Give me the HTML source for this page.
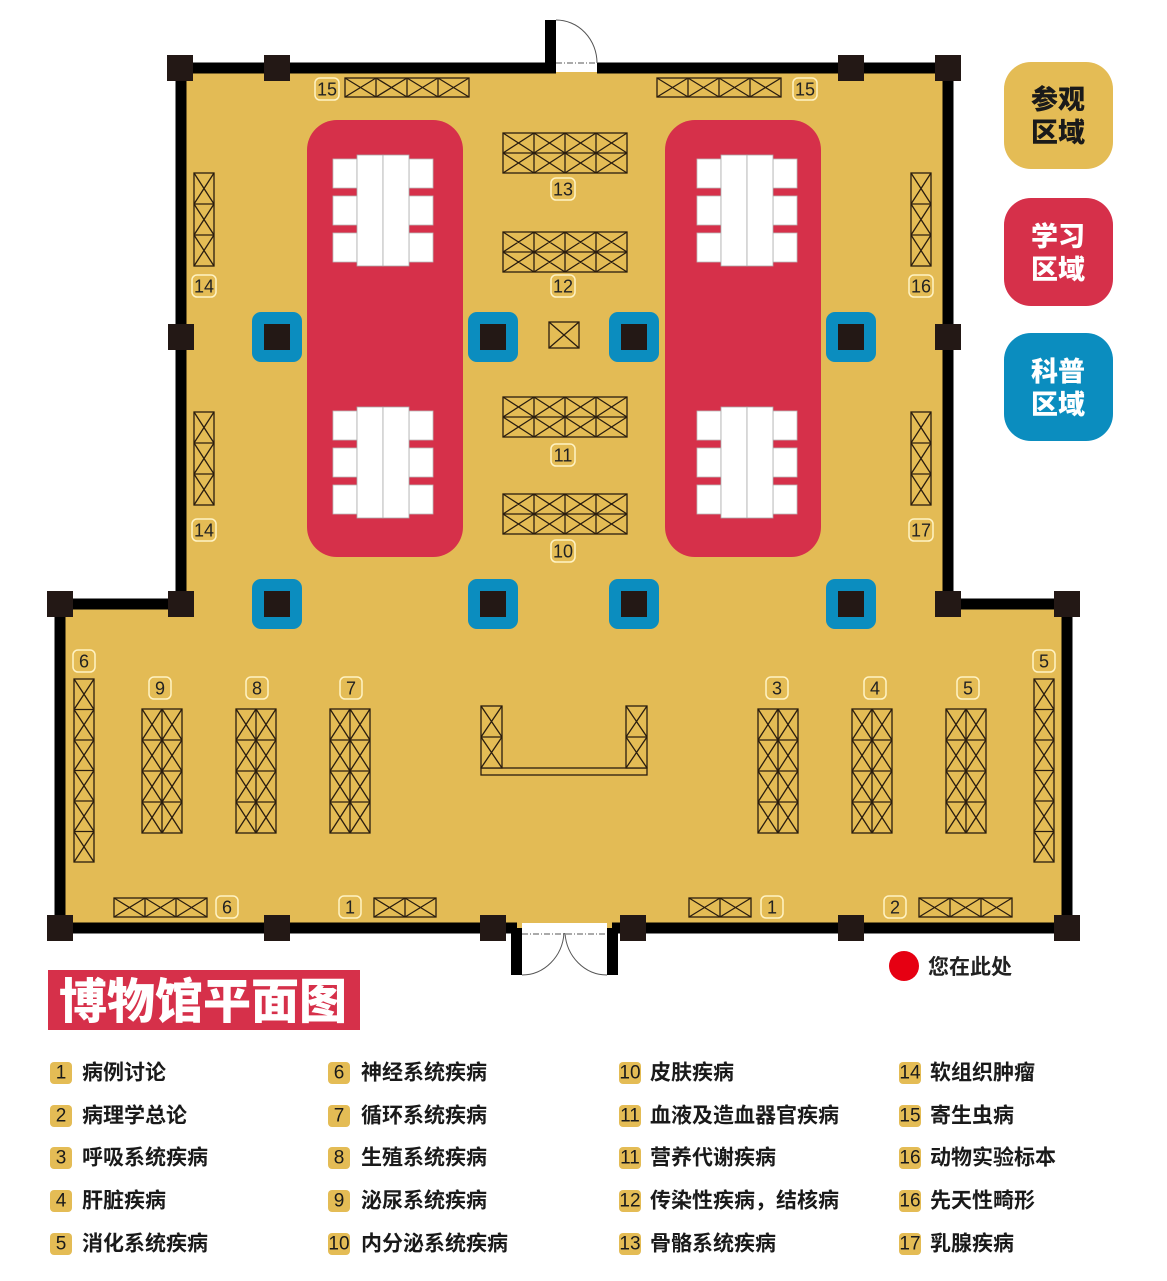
<!DOCTYPE html>
<html><head><meta charset="utf-8"><style>
html,body{margin:0;padding:0;background:#fff}
svg{display:block}
.lb rect{fill:#e4bc55;stroke:#fff3c4;stroke-width:1.5}
.lb text{font-family:"Liberation Sans",sans-serif;font-size:18px;fill:#222;text-anchor:middle;dominant-baseline:central}
.cs{fill:#e4bc55;stroke:#2a1d0f;stroke-width:1.3}
.lg text{font-family:"Liberation Sans","Noto Sans CJK SC",sans-serif;font-size:21px;font-weight:bold;fill:#1a1a1a;dominant-baseline:central}
.lg rect{fill:#e4bc55}
.lg .n{font-weight:normal;font-size:19px;text-anchor:middle}
</style></head><body>
<svg width="1167" height="1281" viewBox="0 0 1167 1281" xmlns="http://www.w3.org/2000/svg">
<defs>
<g id="T4" class="cs"><rect width="124" height="19"/><path d="M0 0l31 19M31 0L0 19M31 0l31 19M62 0L31 19M62 0l31 19M93 0L62 19M93 0l31 19M124 0L93 19M31 0v19M62 0v19M93 0v19"/></g>
<g id="H3" class="cs"><rect width="93" height="19"/><path d="M0 0l31 19M31 0L0 19M31 0l31 19M62 0L31 19M62 0l31 19M93 0L62 19M31 0v19M62 0v19"/></g>
<g id="H2" class="cs"><rect width="62" height="19"/><path d="M0 0l31 19M31 0L0 19M31 0l31 19M62 0L31 19M31 0v19"/></g>
<g id="B4" class="cs"><rect width="124" height="40"/><path d="M0 20h124M31 0v40M62 0v40M93 0v40M0 0l31 20M31 0L0 20M31 0l31 20M62 0L31 20M62 0l31 20M93 0L62 20M93 0l31 20M124 0L93 20M0 20l31 20M31 20L0 40M31 20l31 20M62 20L31 40M62 20l31 20M93 20L62 40M93 20l31 20M124 20L93 40"/></g>
<g id="V3" class="cs"><rect width="20" height="93"/><path d="M0 31h20M0 62h20M0 0l20 31M20 0L0 31M0 31l20 31M20 31L0 62M0 62l20 31M20 62L0 93"/></g>
<g id="V6" class="cs"><rect width="20" height="183"/><path d="M0 30.5h20M0 61h20M0 91.5h20M0 122h20M0 152.5h20M0 0l20 30.5M20 0L0 30.5M0 30.5l20 30.5M20 30.5L0 61M0 61l20 30.5M20 61L0 91.5M0 91.5l20 30.5M20 91.5L0 122M0 122l20 30.5M20 122L0 152.5M0 152.5l20 30.5M20 152.5L0 183"/></g>
<g id="D8" class="cs"><rect width="40" height="124"/><path d="M20 0v124M0 31h40M0 62h40M0 93h40M0 0l20 31M20 0L0 31M0 31l20 31M20 31L0 62M0 62l20 31M20 62L0 93M0 93l20 31M20 93L0 124M20 0l20 31M40 0L20 31M20 31l20 31M40 31L20 62M20 62l20 31M40 62L20 93M20 93l20 31M40 93L20 124"/></g>
<g id="V2" class="cs"><rect width="21" height="62"/><path d="M0 31h21M0 0l21 31M21 0L0 31M0 31l21 31M21 31L0 62"/></g>
<g id="TB"><rect x="0" y="0" width="24" height="29" fill="#fff" stroke="#bbb" stroke-width="0.8"/><rect x="0" y="37" width="24" height="29" fill="#fff" stroke="#bbb" stroke-width="0.8"/><rect x="0" y="74" width="24" height="29" fill="#fff" stroke="#bbb" stroke-width="0.8"/><rect x="76" y="0" width="24" height="29" fill="#fff" stroke="#bbb" stroke-width="0.8"/><rect x="76" y="37" width="24" height="29" fill="#fff" stroke="#bbb" stroke-width="0.8"/><rect x="76" y="74" width="24" height="29" fill="#fff" stroke="#bbb" stroke-width="0.8"/><rect x="24" y="-4" width="26" height="111" fill="#fff" stroke="#aaa" stroke-width="0.8"/><rect x="50" y="-4" width="26" height="111" fill="#fff" stroke="#aaa" stroke-width="0.8"/></g>
<g id="BC"><rect x="-25" y="-25" width="50" height="50" rx="9" fill="#0b8dbf"/><rect x="-13" y="-13" width="26" height="26" fill="#231815"/></g>
</defs>

<path d="M181 68H948V604H1067V928H60V604H181Z" fill="#e3bb55"/>
<g fill="none" stroke="#000" stroke-width="11">
<path d="M556 68H181V604H60V928H517"/>
<path d="M612 928H1067V604H948V68H597"/>
<path d="M550.5 20V68"/>
<path d="M516.5 928V975M612.5 928V975"/>
</g>
<rect x="556" y="64" width="41" height="8" fill="#fff"/>
<rect x="522" y="923" width="85" height="11" fill="#fff"/>
<g fill="none" stroke="#555" stroke-width="1">
<path d="M556 20A41 43 0 0 1 597 63"/>
<path d="M522 975A42 45 0 0 0 564 933M607 975A42 45 0 0 1 565 933"/>
<path d="M556 63H597M522 934H607" stroke-dasharray="6 2 1 2"/>
</g>
<g fill="#231815">
<rect x="167" y="55" width="26" height="26"/><rect x="264" y="55" width="26" height="26"/><rect x="838" y="55" width="26" height="26"/><rect x="935" y="55" width="26" height="26"/>
<rect x="168" y="324" width="26" height="26"/><rect x="935" y="324" width="26" height="26"/>
<rect x="168" y="591" width="26" height="26"/><rect x="935" y="591" width="26" height="26"/>
<rect x="47" y="591" width="26" height="26"/><rect x="1054" y="591" width="26" height="26"/>
<rect x="47" y="915" width="26" height="26"/><rect x="1054" y="915" width="26" height="26"/>
<rect x="264" y="915" width="26" height="26"/><rect x="480" y="915" width="26" height="26"/><rect x="620" y="915" width="26" height="26"/><rect x="838" y="915" width="26" height="26"/>
</g>
<rect x="307" y="120" width="156" height="437" rx="30" fill="#d6304a"/>
<rect x="665" y="120" width="156" height="437" rx="30" fill="#d6304a"/>
<use href="#TB" x="333" y="159"/><use href="#TB" x="333" y="411"/>
<use href="#TB" x="697" y="159"/><use href="#TB" x="697" y="411"/>
<use href="#BC" x="277" y="337"/><use href="#BC" x="493" y="337"/><use href="#BC" x="634" y="337"/><use href="#BC" x="851" y="337"/>
<use href="#BC" x="277" y="604"/><use href="#BC" x="493" y="604"/><use href="#BC" x="634" y="604"/><use href="#BC" x="851" y="604"/>
<use href="#T4" x="345" y="78"/><use href="#T4" x="657" y="78"/>
<use href="#B4" x="503" y="133"/><use href="#B4" x="503" y="232"/><use href="#B4" x="503" y="397"/><use href="#B4" x="503" y="494"/>
<g class="cs"><rect x="549" y="322" width="30" height="26"/><path d="M549 322l30 26M579 322l-30 26"/></g>
<use href="#V3" x="194" y="173"/><use href="#V3" x="194" y="412"/><use href="#V3" x="911" y="173"/><use href="#V3" x="911" y="412"/>
<use href="#V6" x="74" y="679"/><use href="#V6" x="1034" y="679"/>
<use href="#D8" x="142" y="709"/><use href="#D8" x="236" y="709"/><use href="#D8" x="330" y="709"/>
<use href="#D8" x="758" y="709"/><use href="#D8" x="852" y="709"/><use href="#D8" x="946" y="709"/>
<use href="#H3" x="114" y="898"/><use href="#H2" x="374" y="898"/><use href="#H2" x="689" y="898"/><use href="#H3" x="919" y="898"/>
<g class="cs"><rect x="481" y="768" width="166" height="7"/></g>
<use href="#V2" x="481" y="706"/><use href="#V2" x="626" y="706"/>
<g class="lb">
<rect x="315" y="78" width="24" height="22" rx="5"/><text x="327" y="89.5">15</text>
<rect x="793" y="78" width="24" height="22" rx="5"/><text x="805" y="89.5">15</text>
<rect x="551" y="178" width="24" height="22" rx="5"/><text x="563" y="189.5">13</text>
<rect x="551" y="275" width="24" height="22" rx="5"/><text x="563" y="286.5">12</text>
<rect x="551" y="444" width="24" height="22" rx="5"/><text x="563" y="455.5">11</text>
<rect x="551" y="540" width="24" height="22" rx="5"/><text x="563" y="551.5">10</text>
<rect x="192" y="275" width="24" height="22" rx="5"/><text x="204" y="286.5">14</text>
<rect x="192" y="519" width="24" height="22" rx="5"/><text x="204" y="530.5">14</text>
<rect x="909" y="275" width="24" height="22" rx="5"/><text x="921" y="286.5">16</text>
<rect x="909" y="519" width="24" height="22" rx="5"/><text x="921" y="530.5">17</text>
<rect x="73" y="650" width="22" height="22" rx="5"/><text x="84" y="661.5">6</text>
<rect x="1033" y="650" width="22" height="22" rx="5"/><text x="1044" y="661.5">5</text>
<rect x="149" y="677" width="22" height="22" rx="5"/><text x="160" y="688.5">9</text>
<rect x="246" y="677" width="22" height="22" rx="5"/><text x="257" y="688.5">8</text>
<rect x="340" y="677" width="22" height="22" rx="5"/><text x="351" y="688.5">7</text>
<rect x="766" y="677" width="22" height="22" rx="5"/><text x="777" y="688.5">3</text>
<rect x="864" y="677" width="22" height="22" rx="5"/><text x="875" y="688.5">4</text>
<rect x="957" y="677" width="22" height="22" rx="5"/><text x="968" y="688.5">5</text>
<rect x="216" y="896" width="22" height="22" rx="5"/><text x="227" y="907.5">6</text>
<rect x="339" y="896" width="22" height="22" rx="5"/><text x="350" y="907.5">1</text>
<rect x="761" y="896" width="22" height="22" rx="5"/><text x="772" y="907.5">1</text>
<rect x="884" y="896" width="22" height="22" rx="5"/><text x="895" y="907.5">2</text>
</g>
<g font-family="Liberation Sans,Noto Sans CJK SC,sans-serif" font-size="27" font-weight="900" text-anchor="middle">
<rect x="1004" y="62" width="109" height="107" rx="27" fill="#e4bc55"/>
<text x="1058" y="109" fill="#1a1a1a">参观</text><text x="1058" y="142" fill="#1a1a1a">区域</text>
<rect x="1004" y="198" width="109" height="108" rx="27" fill="#d6304a"/>
<text x="1058" y="246" fill="#fff">学习</text><text x="1058" y="279" fill="#fff">区域</text>
<rect x="1004" y="333" width="109" height="108" rx="27" fill="#0b8dbf"/>
<text x="1058" y="381" fill="#fff">科普</text><text x="1058" y="414" fill="#fff">区域</text>
</g>
<circle cx="904" cy="966" r="15" fill="#e60012"/>
<text x="928" y="974" font-family="Liberation Sans,Noto Sans CJK SC,sans-serif" font-size="21" font-weight="bold" fill="#222">您在此处</text>
<rect x="48" y="970" width="312" height="60" fill="#d6304a"/>
<text x="203" y="1018" text-anchor="middle" font-family="Liberation Sans,Noto Sans CJK SC,sans-serif" font-size="48" font-weight="900" fill="#fff">博物馆平面图</text>
<g class="lg">
<rect x="50" y="1062" width="22" height="22" rx="4"/><text class="n" x="61" y="1073">1</text><text x="82" y="1073">病例讨论</text>
<rect x="50" y="1105" width="22" height="22" rx="4"/><text class="n" x="61" y="1116">2</text><text x="82" y="1116">病理学总论</text>
<rect x="50" y="1147" width="22" height="22" rx="4"/><text class="n" x="61" y="1158">3</text><text x="82" y="1158">呼吸系统疾病</text>
<rect x="50" y="1190" width="22" height="22" rx="4"/><text class="n" x="61" y="1201">4</text><text x="82" y="1201">肝脏疾病</text>
<rect x="50" y="1233" width="22" height="22" rx="4"/><text class="n" x="61" y="1244">5</text><text x="82" y="1244">消化系统疾病</text>

<rect x="328" y="1062" width="22" height="22" rx="4"/><text class="n" x="339" y="1073">6</text><text x="361" y="1073">神经系统疾病</text>
<rect x="328" y="1105" width="22" height="22" rx="4"/><text class="n" x="339" y="1116">7</text><text x="361" y="1116">循环系统疾病</text>
<rect x="328" y="1147" width="22" height="22" rx="4"/><text class="n" x="339" y="1158">8</text><text x="361" y="1158">生殖系统疾病</text>
<rect x="328" y="1190" width="22" height="22" rx="4"/><text class="n" x="339" y="1201">9</text><text x="361" y="1201">泌尿系统疾病</text>
<rect x="328" y="1233" width="22" height="22" rx="4"/><text class="n" x="339" y="1244">10</text><text x="361" y="1244">内分泌系统疾病</text>

<rect x="619" y="1062" width="22" height="22" rx="4"/><text class="n" x="630" y="1073">10</text><text x="650" y="1073">皮肤疾病</text>
<rect x="619" y="1105" width="22" height="22" rx="4"/><text class="n" x="630" y="1116">11</text><text x="650" y="1116">血液及造血器官疾病</text>
<rect x="619" y="1147" width="22" height="22" rx="4"/><text class="n" x="630" y="1158">11</text><text x="650" y="1158">营养代谢疾病</text>
<rect x="619" y="1190" width="22" height="22" rx="4"/><text class="n" x="630" y="1201">12</text><text x="650" y="1201">传染性疾病，结核病</text>
<rect x="619" y="1233" width="22" height="22" rx="4"/><text class="n" x="630" y="1244">13</text><text x="650" y="1244">骨骼系统疾病</text>

<rect x="899" y="1062" width="22" height="22" rx="4"/><text class="n" x="910" y="1073">14</text><text x="930" y="1073">软组织肿瘤</text>
<rect x="899" y="1105" width="22" height="22" rx="4"/><text class="n" x="910" y="1116">15</text><text x="930" y="1116">寄生虫病</text>
<rect x="899" y="1147" width="22" height="22" rx="4"/><text class="n" x="910" y="1158">16</text><text x="930" y="1158">动物实验标本</text>
<rect x="899" y="1190" width="22" height="22" rx="4"/><text class="n" x="910" y="1201">16</text><text x="930" y="1201">先天性畸形</text>
<rect x="899" y="1233" width="22" height="22" rx="4"/><text class="n" x="910" y="1244">17</text><text x="930" y="1244">乳腺疾病</text>
</g>
</svg>
</body></html>
